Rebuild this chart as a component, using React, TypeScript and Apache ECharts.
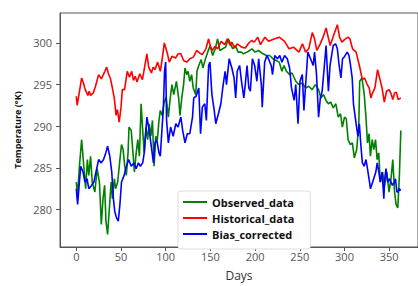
import React, { useEffect, useRef } from "react";
import * as echarts from "echarts";

const xTicks = [0, 50, 100, 150, 200, 250, 300, 350];
const yTicks = [280, 285, 290, 295, 300];

const histDays = [0, 1, 3, 6, 8, 10, 13, 14.5, 16, 19, 21.5, 25, 28, 32, 34, 36, 38, 40, 42.5, 44.5, 46, 48, 50, 51.5, 54, 57, 59.5, 62, 64, 66, 68, 71, 74, 79, 81, 84, 86, 88, 91, 94, 96, 98.5, 102, 104, 107, 111, 114, 117, 120, 123.5, 127, 131, 134.5, 138, 141, 145, 148, 150, 152, 155, 158, 162, 166, 169, 172, 174, 177, 180, 185, 189, 193, 196, 199, 203, 206, 211, 215, 222, 227, 233, 238, 243, 249, 253, 256.5, 260, 264, 266.5, 269, 272.5, 276, 279.4, 282, 284, 287.5, 292, 294.5, 297, 300, 304, 306, 309, 313, 316.6, 320, 322.5, 325, 327.6, 329.5, 331, 334, 337, 340, 342, 344.5, 347, 350, 352, 354, 356, 358, 360, 363];
const histVals = [293.6, 292.5, 293.8, 295.8, 295.2, 294.4, 293.7, 294.2, 293.7, 294.0, 294.8, 296.2, 295.7, 296.6, 297.1, 296.3, 295.8, 294.8, 293.4, 291.3, 292.0, 290.5, 292.2, 294.4, 294.4, 296.6, 295.9, 296.6, 295.5, 296.0, 295.3, 296.3, 295.6, 298.7, 297.1, 296.4, 297.1, 296.8, 297.7, 296.6, 298.0, 300.0, 298.7, 297.7, 298.4, 298.2, 298.7, 298.7, 297.9, 297.7, 298.1, 298.3, 299.1, 298.8, 298.6, 299.3, 300.5, 299.6, 299.1, 299.6, 299.3, 300.2, 299.8, 300.5, 299.7, 300.1, 299.4, 299.9, 299.5, 299.4, 300.0, 300.3, 300.1, 300.7, 299.8, 300.7, 300.2, 300.5, 300.7, 300.2, 299.3, 299.5, 298.9, 299.9, 298.9, 299.3, 301.25, 300.5, 299.1, 299.8, 300.7, 301.8, 300.6, 299.7, 300.8, 302.2, 300.7, 300.1, 300.4, 300.7, 300.5, 299.3, 298.9, 297.3, 295.6, 295.8, 295.1, 294.6, 293.4, 293.9, 294.6, 296.8, 295.5, 294.6, 292.9, 294.2, 294.4, 293.9, 293.2, 294.0, 294.1, 293.2, 293.4];

const obsDays = [0, 1.5, 3.3, 6, 8.4, 10.5, 12.4, 14, 16, 17.8, 20.8, 23.3, 25.9, 28, 29.9, 31.7, 33.2, 35, 36.8, 39, 40.4, 42.6, 44, 46.3, 48.8, 50.6, 52.4, 54.2, 56, 57.9, 59, 61.5, 63.4, 65, 67, 68.8, 70.6, 72.5, 74.3, 76, 78, 79.8, 81.6, 83.4, 85.2, 87, 88.9, 90.7, 92.5, 94, 96, 98, 100.5, 103, 105, 107, 109, 112, 114.5, 116, 118, 120, 121.6, 123.5, 125, 127, 129, 130.8, 133.6, 135, 137, 139.7, 141.6, 144.5, 147, 149.7, 152.5, 155.5, 158, 160.7, 163.6, 167, 170, 172.5, 175, 178, 181, 184.5, 187, 190.7, 194, 196.4, 200, 203.7, 209, 212.6, 216.2, 220, 223.5, 227, 230, 232.3, 235, 238.7, 241.3, 245.5, 249, 252.8, 256.5, 260, 263.8, 267.4, 271, 273.6, 276.5, 279.4, 282, 284.6, 287.4, 290.3, 293, 295.5, 297.6, 300, 302, 304, 306.6, 308.8, 311, 313.6, 316, 317, 319.5, 322, 324, 325.7, 327.5, 329, 331, 332.8, 334.7, 336.5, 338.3, 340, 342.6, 344.8, 347.3, 349.8, 352, 354, 356, 357.7, 359.6, 361.4, 363];
const obsVals = [283.3, 281.7, 284.9, 288.4, 285.2, 282.5, 286.0, 284.1, 286.4, 283.3, 282.1, 284.9, 283.3, 278.2, 281.3, 282.9, 278.6, 277.0, 279.8, 283.3, 281.3, 283.7, 282.5, 283.3, 286.0, 287.8, 287.2, 285.2, 284.1, 286.8, 289.9, 289.5, 286.8, 284.5, 286.8, 288.4, 286.4, 292.7, 289.5, 286.8, 289.9, 288.4, 290.3, 288.8, 290.7, 285.2, 288.8, 288.4, 290.7, 291.9, 291.3, 292.7, 293.5, 291.1, 293.3, 295.0, 293.8, 295.4, 293.4, 291.3, 293.4, 295.0, 297.0, 296.2, 296.6, 295.4, 296.2, 294.6, 293.8, 296.6, 297.3, 298.0, 297.0, 298.1, 298.9, 299.7, 298.5, 299.3, 300.5, 299.1, 299.3, 299.5, 300.5, 299.9, 299.3, 299.7, 298.9, 298.9, 298.7, 298.9, 299.1, 299.3, 298.9, 299.1, 298.7, 298.5, 298.5, 298.1, 297.9, 297.7, 296.6, 297.3, 296.6, 296.2, 296.4, 295.4, 295.0, 295.2, 294.6, 294.8, 294.4, 295.0, 294.4, 293.4, 293.8, 293.1, 292.7, 292.9, 292.2, 292.7, 291.1, 291.5, 289.9, 291.1, 290.9, 288.4, 287.8, 288.0, 286.2, 287.2, 290.3, 295.4, 295.8, 293.9, 291.1, 288.0, 289.1, 286.4, 288.4, 287.2, 288.4, 286.0, 286.8, 283.3, 284.5, 282.9, 284.5, 282.1, 283.7, 286.0, 282.1, 280.6, 280.2, 284.1, 289.5];

const biasDays = [0, 1.5, 3.5, 5, 7.6, 9.7, 12, 14, 17, 19.7, 22, 25, 27.9, 30.5, 33, 35, 37.5, 39.7, 41.5, 43, 45, 47, 48.8, 50.6, 53.5, 56, 58.6, 61.5, 64.4, 67, 69.5, 71.7, 74.3, 76, 79, 81.6, 83.4, 86.3, 88, 90, 92.5, 94, 96, 97.3, 98.7, 100, 101, 103, 105.5, 108.4, 111.3, 113.8, 117, 119, 121.6, 124.2, 127, 130, 131.4, 134, 137, 139, 141, 143.7, 145.5, 148, 149.5, 151.7, 154.3, 156, 159, 161.7, 164.3, 166.5, 168, 171, 174, 176.5, 178.3, 180, 182.7, 184.8, 187.4, 189, 191, 193, 194.7, 197, 199.5, 202, 204, 207, 208, 210.7, 213.2, 215, 218, 219.5, 222, 225, 227.6, 230, 233, 236, 238.6, 240.7, 243.7, 245.5, 248, 250.2, 252.8, 254.6, 256.8, 259, 262, 265, 266.5, 268.7, 271, 273, 275, 277.5, 279.4, 282, 283.8, 285.6, 287.4, 290, 292, 294, 296, 297.8, 299.6, 303, 305, 306.5, 308.6, 310, 312, 313.5, 315, 316.6, 318.4, 320, 322, 324, 325.7, 328, 329, 331.5, 335, 336.6, 338.4, 340, 342, 344, 345, 346.4, 348.3, 350, 352, 353.6, 355.8, 357, 358.6, 360, 361, 363];
const biasVals = [282.5, 280.6, 283.3, 285.2, 284.5, 283.3, 283.7, 282.5, 282.9, 283.3, 284.5, 286.0, 285.6, 286.0, 286.8, 287.6, 286.4, 284.5, 281.3, 279.8, 279.0, 278.6, 280.6, 283.3, 284.1, 285.2, 286.0, 285.2, 285.6, 284.9, 285.6, 285.2, 285.6, 286.8, 291.1, 289.5, 288.0, 285.6, 288.0, 288.4, 286.8, 286.4, 289.9, 291.9, 296.6, 297.7, 290.7, 288.0, 289.9, 288.8, 290.3, 289.9, 291.1, 289.5, 288.0, 289.1, 289.1, 291.1, 293.4, 293.6, 294.6, 289.1, 292.3, 292.7, 290.7, 297.3, 297.7, 293.8, 291.9, 290.3, 291.5, 292.7, 295.0, 296.6, 295.0, 298.1, 297.0, 295.8, 293.4, 296.6, 297.3, 295.4, 293.4, 295.0, 297.3, 294.6, 294.2, 298.1, 297.3, 295.4, 298.1, 295.0, 292.3, 297.7, 298.5, 298.1, 297.3, 296.2, 298.5, 298.1, 298.5, 297.7, 298.5, 298.1, 297.0, 294.6, 293.1, 295.0, 290.3, 295.4, 296.2, 291.9, 295.4, 298.9, 298.1, 297.3, 298.9, 296.2, 291.1, 293.4, 294.2, 297.3, 299.7, 294.2, 297.3, 298.5, 299.7, 299.9, 299.3, 297.3, 295.8, 298.1, 298.3, 298.9, 298.5, 297.5, 295.8, 292.7, 291.1, 289.9, 288.8, 290.3, 287.6, 285.6, 285.2, 286.0, 284.9, 283.3, 282.5, 283.3, 284.5, 285.6, 284.5, 283.3, 284.5, 281.3, 283.7, 284.9, 283.3, 283.7, 283.3, 282.9, 283.3, 283.7, 282.1, 282.1, 282.5, 282.3];

const seriesNames = ["Observed_data", "Historical_data", "Bias_corrected"];
const seriesColors = ["#008000", "#ff0000", "#0000ff"];

const FONT = "Open Sans";

export default function App() {
  const ref = useRef<HTMLDivElement>(null);
  useEffect(() => {
    if (!ref.current) return;
    const chart = echarts.init(ref.current, undefined, { renderer: "svg" });
    const pair = (d: number[], v: number[]) => d.map((x, i) => [x, v[i]]);
    const datasets = [pair(obsDays, obsVals), pair(histDays, histVals), pair(biasDays, biasVals)];
    chart.setOption({
      animation: false,
      backgroundColor: "#ffffff",
      grid: { left: 60, top: 13, width: 367, height: 240, show: true, borderColor: "#555", borderWidth: 1 },
      xAxis: {
        type: "value",
        min: -18.2,
        max: 382.2,
        name: "Days",
        nameLocation: "middle",
        nameGap: 22,
        nameTextStyle: { fontFamily: FONT, fontSize: 12, color: "#333" },
        axisLine: { show: true, onZero: false, lineStyle: { color: "#555", width: 1 } },
        axisTick: { show: true, length: 4, lineStyle: { color: "#555" }, customValues: xTicks },
        axisLabel: { fontFamily: FONT, fontSize: 11, color: "#555", margin: 4, customValues: xTicks },
        splitLine: { show: false },
      },
      yAxis: {
        type: "value",
        min: 275.5,
        max: 303.6,
        name: "Temperature (°K)",
        nameLocation: "middle",
        nameGap: 36,
        nameTextStyle: { fontFamily: FONT, fontSize: 9, fontWeight: "bold", color: "#111" },
        axisLine: { show: true, onZero: false, lineStyle: { color: "#555", width: 1 } },
        axisTick: { show: true, length: 4, lineStyle: { color: "#555" }, customValues: yTicks },
        axisLabel: { fontFamily: FONT, fontSize: 11, color: "#555", margin: 8, customValues: yTicks },
        splitLine: { show: false },
      },
      legend: {
        orient: "vertical",
        left: 178,
        top: 191,
        icon: "rect",
        itemWidth: 24,
        itemHeight: 2,
        itemGap: 4,
        padding: [5, 16, 9, 5],
        borderColor: "#dddddd",
        borderWidth: 1,
        borderRadius: 3,
        backgroundColor: "#ffffff",
        textStyle: { fontFamily: FONT, fontSize: 11, fontWeight: "bold", color: "#111", lineHeight: 12 },
        data: seriesNames,
      },
      series: seriesNames.map((name, i) => ({
        name,
        type: "line",
        data: datasets[i],
        showSymbol: false,
        symbol: "none",
        color: seriesColors[i],
        lineStyle: { width: 1.6, color: seriesColors[i] },
        z: i === 2 ? 3 : i === 0 ? 1 : 2,
      })),
    });
    return () => chart.dispose();
  }, []);
  return <div ref={ref} style={{ position: "absolute", left: 0, top: 0, width: 418, height: 286 }} />;
}
